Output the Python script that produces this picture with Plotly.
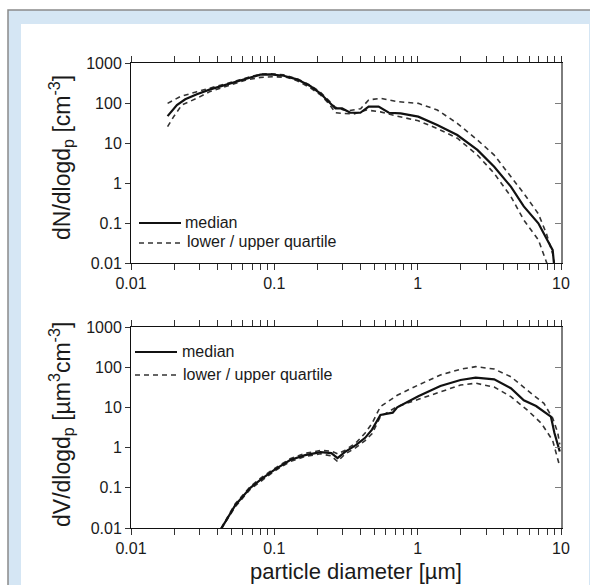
import plotly.graph_objects as go

# ---------------- data ----------------
top_d_median = [0.018, 0.0209, 0.0239, 0.0288, 0.0357, 0.0493, 0.0644, 0.0797, 0.0937, 0.1162, 0.1438, 0.178,
                0.209, 0.239, 0.267, 0.297, 0.339, 0.398, 0.455, 0.534, 0.63, 0.76, 1.01, 1.37, 1.89, 2.61,
                3.42, 4.47, 5.5, 6.95, 8.2, 8.75, 8.95]
top_median = [47, 89, 124, 166, 219, 310, 414, 510, 520, 480, 390, 266,
              175, 107, 73, 73, 57, 57, 81, 81, 57, 55, 45.6, 28, 15.8, 6.7,
              2.55, 0.81, 0.26, 0.098, 0.034, 0.021, 0.009]

top_d_upper = [0.018, 0.022, 0.0288, 0.0357, 0.0493, 0.0644, 0.08, 0.094, 0.116, 0.144, 0.178, 0.21, 0.24,
               0.267, 0.30, 0.33, 0.40, 0.455, 0.55, 0.72, 1.01, 1.37, 1.89, 2.61, 3.42, 4.47, 5.5, 6.95,
               7.9, 8.75, 9.0]
top_upper = [98, 144, 192, 235, 325, 430, 530, 540, 505, 405, 280, 185, 112,
             78, 68, 64, 72, 119, 131, 108, 98, 67, 31, 11.9, 5.0, 1.44, 0.55, 0.17,
             0.055, 0.017, 0.0095]

top_d_lower = [0.018, 0.0198, 0.0226, 0.0288, 0.0357, 0.049, 0.064, 0.08, 0.099, 0.123, 0.144, 0.178, 0.21,
               0.24, 0.267, 0.30, 0.358, 0.44, 0.55, 0.72, 1.01, 1.37, 1.89, 2.61, 3.42, 4.47, 5.5, 6.95,
               7.6, 8.0]
top_lower = [25.7, 45, 89, 131, 195, 282, 380, 437, 455, 437, 360, 240, 160,
             97, 57, 55, 53, 67, 60, 47, 36, 23, 13.2, 5.0, 1.74, 0.46, 0.119, 0.038,
             0.017, 0.0095]

bot_d_median = [0.0425, 0.0534, 0.068, 0.082, 0.1, 0.129, 0.164, 0.21, 0.25, 0.276, 0.31, 0.37, 0.43, 0.48,
                0.55, 0.67, 0.72, 1.01, 1.44, 1.99, 2.54, 3.42, 4.47, 5.5, 6.7, 8.5, 9.0, 9.8]
bot_median = [0.0095, 0.037, 0.1, 0.17, 0.28, 0.49, 0.65, 0.77, 0.73, 0.55, 0.77, 1.15, 1.75, 2.8,
              6.5, 7.4, 10, 19, 34, 48, 55, 50, 30, 15, 10.8, 5.9, 2.3, 0.8]

bot_d_upper = [0.0425, 0.0534, 0.068, 0.082, 0.1, 0.129, 0.164, 0.21, 0.25, 0.276, 0.31, 0.37, 0.43, 0.48,
               0.55, 0.72, 1.01, 1.44, 1.99, 2.54, 3.42, 4.47, 5.8, 7.6, 8.75, 9.5, 9.8]
bot_upper = [0.0098, 0.04, 0.108, 0.185, 0.3, 0.53, 0.72, 0.85, 0.82, 0.7, 0.85, 1.3, 2.3, 4.0,
             10.5, 20, 36, 64, 89, 103, 90, 58, 27, 12.6, 5.4, 2.3, 1.2]

bot_d_lower = [0.0425, 0.0534, 0.068, 0.082, 0.1, 0.129, 0.164, 0.21, 0.25, 0.276, 0.31, 0.37, 0.43, 0.48,
               0.55, 0.72, 1.01, 1.44, 1.99, 2.54, 3.42, 4.47, 5.8, 7.3, 8.75, 9.8]
bot_lower = [0.0093, 0.034, 0.092, 0.155, 0.26, 0.45, 0.6, 0.7, 0.62, 0.45, 0.68, 1.0, 1.5, 2.2,
             5.9, 10.5, 16, 24.5, 36, 40, 32, 18.5, 8.7, 4.0, 1.5, 0.34]

x_tickvals = [0.01, 0.1, 1, 10]
x_ticktext = ["0.01", "0.1", "1", "10"]
x_minor = [m * 10 ** e for e in (-2, -1, 0) for m in range(2, 10)]
y_tickvals = [0.01, 0.1, 1, 10, 100, 1000]
y_ticktext = ["0.01", "0.1", "1", "10", "100", "1000"]

legend_median = "median"
legend_quart = "lower / upper quartile"
ytitle_top = "dN/dlogd<sub>p</sub> [cm<sup>-3</sup>]"
ytitle_bot = "dV/dlogd<sub>p</sub> [µm<sup>3</sup>cm<sup>-3</sup>]"
xtitle = "particle diameter [µm]"

# ---------------- geometry (pixels) ----------------
W, H = 590, 585
L, R = 131, 561
T1, B1 = 63, 263
T2, B2 = 327, 528
PW, PH = R - L, B2 - T1


def px(x):
    return (x - L) / PW


def py(y):
    return (B2 - y) / PH


FONT = "Liberation Sans, Arial, sans-serif"
TXT = "#1a1a1a"
MED = dict(color="#111111", width=2.2)
QRT = dict(color="#333333", width=1.6, dash="5px,4px")

fig = go.Figure()
fig.add_trace(go.Scatter(x=top_d_upper, y=top_upper, mode="lines", line=QRT, xaxis="x", yaxis="y", showlegend=False))
fig.add_trace(go.Scatter(x=top_d_lower, y=top_lower, mode="lines", line=QRT, xaxis="x", yaxis="y", showlegend=False))
fig.add_trace(go.Scatter(x=top_d_median, y=top_median, mode="lines", line=MED, xaxis="x", yaxis="y3", showlegend=False))
fig.add_trace(go.Scatter(x=bot_d_upper, y=bot_upper, mode="lines", line=QRT, xaxis="x2", yaxis="y2", showlegend=False))
fig.add_trace(go.Scatter(x=bot_d_lower, y=bot_lower, mode="lines", line=QRT, xaxis="x2", yaxis="y2", showlegend=False))
fig.add_trace(go.Scatter(x=bot_d_median, y=bot_median, mode="lines", line=MED, xaxis="x2", yaxis="y4", showlegend=False))

tickfont = dict(family=FONT, size=16, color=TXT)


def xax(anchor):
    return dict(type="log", range=[-2, 1], domain=[0, 1], anchor=anchor,
                showline=True, linecolor="#111", linewidth=1, mirror="allticks",
                ticks="outside", ticklen=6, tickwidth=1, tickcolor="#333",
                tickvals=x_tickvals, ticktext=x_ticktext, tickfont=tickfont,
                showgrid=False, zeroline=False,
                minor=dict(tickvals=x_minor, ticks="outside", ticklen=4, tickcolor="#333", showgrid=False))


def yax(anchor, dom):
    return dict(type="log", range=[-2, 3], domain=dom, anchor=anchor,
                showline=True, linecolor="#111", linewidth=1, mirror=False,
                ticks="outside", ticklen=5, tickwidth=1, tickcolor="#333",
                tickvals=y_tickvals, ticktext=y_ticktext, tickfont=tickfont,
                showgrid=False, zeroline=False)


def yright(over):
    return dict(type="log", range=[-2, 3], overlaying=over, side="right",
                showline=True, linecolor="#7d7d7d", linewidth=2,
                ticks="inside", ticklen=6, tickwidth=1, tickcolor="#7d7d7d",
                tickvals=y_tickvals, showticklabels=False, showgrid=False, zeroline=False)


dom_top = [py(B1), 1]
dom_bot = [0, py(T2)]

shapes = [
    # frame
    dict(type="rect", xref="paper", yref="paper", x0=px(8), x1=px(620), y0=py(10), y1=py(620),
         line=dict(color="#8a8a8a", width=1.5), fillcolor="#d5e6f4", layer="below"),
    dict(type="rect", xref="paper", yref="paper", x0=px(21), x1=px(589), y0=py(24), y1=py(620),
         line=dict(width=0), fillcolor="#ffffff", layer="below"),
    # legend samples
    dict(type="line", xref="paper", yref="paper", x0=px(139), x1=px(181), y0=py(223), y1=py(223),
         line=dict(color=MED["color"], width=2.2)),
    dict(type="line", xref="paper", yref="paper", x0=px(139), x1=px(183), y0=py(243), y1=py(243),
         line=dict(color=QRT["color"], width=1.6, dash="5px,4px")),
    dict(type="line", xref="paper", yref="paper", x0=px(135), x1=px(177), y0=py(352), y1=py(352),
         line=dict(color=MED["color"], width=2.2)),
    dict(type="line", xref="paper", yref="paper", x0=px(135), x1=px(179), y0=py(375), y1=py(375),
         line=dict(color=QRT["color"], width=1.6, dash="5px,4px")),
]

legfont = dict(family=FONT, size=16, color=TXT)
titlefont = dict(family=FONT, size=23, color=TXT)
annotations = [
    dict(text=legend_median, x=px(183), y=py(222), xref="paper", yref="paper", xanchor="left", yanchor="middle",
         showarrow=False, font=legfont),
    dict(text=legend_quart, x=px(185), y=py(242), xref="paper", yref="paper", xanchor="left", yanchor="middle",
         showarrow=False, font=legfont),
    dict(text=legend_median, x=px(180), y=py(351), xref="paper", yref="paper", xanchor="left", yanchor="middle",
         showarrow=False, font=legfont),
    dict(text=legend_quart, x=px(181), y=py(374), xref="paper", yref="paper", xanchor="left", yanchor="middle",
         showarrow=False, font=legfont),
    dict(text=ytitle_top, x=px(61), y=py(158), xref="paper", yref="paper", xanchor="center", yanchor="middle",
         textangle=-90, showarrow=False, font=titlefont),
    dict(text=ytitle_bot, x=px(61), y=py(425), xref="paper", yref="paper", xanchor="center", yanchor="middle",
         textangle=-90, showarrow=False, font=titlefont),
    dict(text=xtitle, x=px(356), y=py(571), xref="paper", yref="paper", xanchor="center", yanchor="middle",
         showarrow=False, font=dict(family=FONT, size=22, color=TXT)),
]

fig.update_layout(
    width=W, height=H,
    margin=dict(l=L, r=W - R, t=T1, b=H - B2, pad=0),
    paper_bgcolor="#ffffff", plot_bgcolor="rgba(0,0,0,0)",
    xaxis=xax("y"), yaxis=yax("x", dom_top), yaxis3=yright("y"),
    xaxis2=xax("y2"), yaxis2=yax("x2", dom_bot), yaxis4=yright("y2"),
    shapes=shapes, annotations=annotations, showlegend=False,
)

fig.write_html("out.html")
